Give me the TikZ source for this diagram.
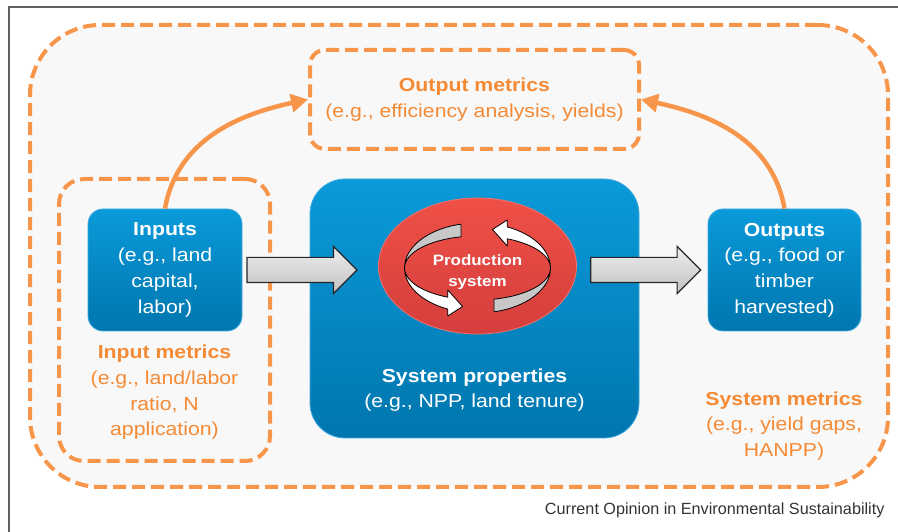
\documentclass[tikz,border=0pt]{standalone}
\usepackage{fontspec}
\setmainfont{Liberation Sans}
\newfontfamily\figfont{Liberation Sans}[FakeStretch=1.13]
\usetikzlibrary{arrows.meta,shapes.geometric,shapes.arrows,positioning}

\definecolor{metricorange}{HTML}{F7964A}
\definecolor{textorange}{HTML}{F58A35}
\definecolor{bluetop}{HTML}{0A9ADA}
\definecolor{bluebottom}{HTML}{0076AE}
\definecolor{blueedge}{HTML}{3FAADD}
\definecolor{redfill}{HTML}{EF5047}
\definecolor{reddark}{HTML}{D43E3C}
\definecolor{rededge}{HTML}{F4736B}
\definecolor{paneback}{HTML}{F8F8F8}
\definecolor{framegray}{HTML}{5F5F5F}
\definecolor{ribbongray}{HTML}{C8C8C8}
\definecolor{creditgray}{HTML}{333333}

\tikzset{
  bodyfont/.style={font=\figfont\fontsize{18.8}{25.7}\selectfont},
  bluebox/.style={rounded corners=15pt, top color=bluetop, bottom color=bluebottom,
    draw=blueedge, line width=0.8pt, text=white, align=center, inner sep=0pt, bodyfont},
  metricbox/.style={draw=metricorange, line width=4pt, dash pattern=on 13pt off 6pt,
    inner sep=0pt, align=center},
  metrictext/.style={text=textorange, align=center, bodyfont},
  grayarrow/.style={single arrow, draw=black!85, line width=1.2pt,
    top color=black!7, bottom color=black!24, minimum height=110pt,
    minimum width=46pt, single arrow head extend=11pt, single arrow tip angle=90,
    inner sep=12pt},
  flowarrow/.style={draw=metricorange, line width=4.5pt,
    -{Triangle[length=17pt,width=18pt]}},
  ribbon/.style={draw=black, line width=0.8pt, line join=round},
}

\begin{document}
\begin{tikzpicture}[x=1pt,y=1pt]
\useasboundingbox (0,0) rectangle (898,532);
% frame of the panel
\draw[framegray, line width=1.5pt] (898,525) -- (9,525) -- (9,0);

% dashed regions
\node[metricbox, rounded corners=70pt, fill=paneback, minimum width=858pt, minimum height=462pt] (pane) at (459,276) {};
\node[metricbox, rounded corners=25pt, minimum width=211pt, minimum height=282pt] (inmet) at (164.5,212) {};
\node[metricbox, rounded corners=15pt, minimum width=329pt, minimum height=99pt, text=textorange, bodyfont] (outmet) at (474.5,432.5)
  {\bfseries Output metrics\\(e.g., efficiency analysis, yields)};

% blue boxes
\node[bluebox, minimum width=154pt, minimum height=122pt] (inputs) at (165,262)
  {\bfseries Inputs\\(e.g., land\\capital,\\labor)};
\node[bluebox, rounded corners=35pt, minimum width=329pt, minimum height=259pt] (sysprop) at (474.5,223.5) {};
\node[bluebox, minimum width=153pt, minimum height=122pt] (outputs) at (784.5,262)
  {\bfseries Outputs\\(e.g., food or\\timber\\harvested)};

% block arrows
\node[grayarrow, anchor=west] (inarrow) at ([xshift=4pt]inputs.east) {};
\node[grayarrow, anchor=east] (outarrow) at ([xshift=-6pt]outputs.west) {};

% production system
\node[ellipse, minimum width=198pt, minimum height=136pt, top color=redfill, middle color=redfill,
  bottom color=reddark, draw=rededge, line width=0.8pt] (prodsys) at (477.5,266) {};
\foreach \turn in {0,180}{
  \begin{scope}[shift={(477.5,264)}, rotate=\turn]
    \filldraw[ribbon, fill=ribbongray] (103:73 and 45)
      arc[start angle=103, end angle=180, x radius=73, y radius=45]
      arc[start angle=180, end angle=103, x radius=73, y radius=32] -- cycle;
    \filldraw[ribbon, fill=white] (-73,0)
      arc[start angle=180, end angle=246, x radius=73, y radius=45]
      -- (-29.7,-48) -- (-15,-38.5) -- (-29.7,-22) -- (-29.7,-29.2)
      arc[start angle=246, end angle=180, x radius=73, y radius=32] -- cycle;
  \end{scope}
}
\node[text=white, align=center, font=\figfont\fontsize{15}{21}\selectfont\bfseries] (prodlabel)
  at ([yshift=-6pt]prodsys.center) {Production\\system};

% labels
\node[text=white, align=center, bodyfont] (syslabel) at (474.5,142)
  {\textbf{System properties}\\(e.g., NPP, land tenure)};
\node[metrictext] (inmetlabel) at (164.5,139.5)
  {\textbf{Input metrics}\\(e.g., land/labor\\ratio, N\\application)};
\node[metrictext] (sysmetlabel) at (784,106)
  {\textbf{System metrics}\\(e.g., yield gaps,\\HANPP)};

% metric arrows
\draw[flowarrow] (inputs.north) to[out=80, in=192] (outmet.west);
\draw[flowarrow] (outputs.north) to[out=100, in=-12] (outmet.east);

\node[anchor=east, text=creditgray, font=\fontsize{16.2}{19}\selectfont] (credit) at (888,22)
  {Current Opinion in Environmental Sustainability};
\end{tikzpicture}
\end{document}
